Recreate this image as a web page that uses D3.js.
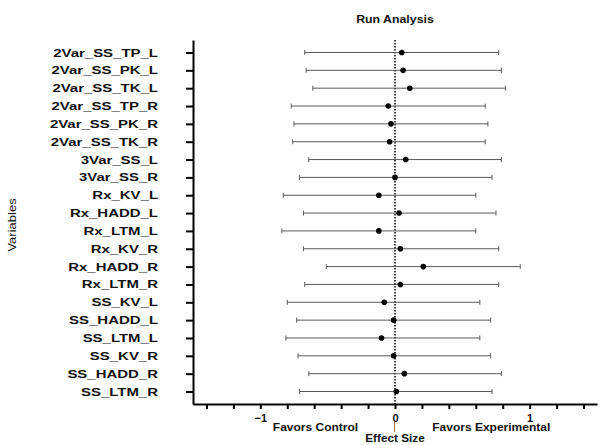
<!DOCTYPE html>
<html>
<head>
<meta charset="utf-8">
<script src="https://cdn.jsdelivr.net/npm/d3@7"></script>
<style>
  body { margin: 0; background: #fff; }
  text { font-family: "Liberation Sans", Arial, sans-serif; fill: #111; }
</style>
</head>
<body>
<script>
// variables, top to bottom
let variables = ['2Var_SS_TP_L', '2Var_SS_PK_L', '2Var_SS_TK_L', '2Var_SS_TP_R', '2Var_SS_PK_R',
  '2Var_SS_TK_R', '3Var_SS_L', '3Var_SS_R', 'Rx_KV_L', 'Rx_HADD_L', 'Rx_LTM_L', 'Rx_KV_R',
  'Rx_HADD_R', 'Rx_LTM_R', 'SS_KV_L', 'SS_HADD_L', 'SS_LTM_L', 'SS_KV_R', 'SS_HADD_R', 'SS_LTM_R'];
let effect = [0.05, 0.06, 0.11, -0.05, -0.03, -0.04, 0.08, 0.00, -0.12, 0.03, -0.12, 0.04,
  0.21, 0.04, -0.08, -0.01, -0.10, -0.01, 0.07, 0.01];
let lower = [-0.67, -0.66, -0.61, -0.77, -0.75, -0.76, -0.64, -0.71, -0.83, -0.68, -0.84, -0.68,
  -0.51, -0.67, -0.80, -0.73, -0.81, -0.72, -0.64, -0.71];
let upper = [0.77, 0.79, 0.82, 0.67, 0.69, 0.67, 0.79, 0.72, 0.60, 0.75, 0.60, 0.77,
  0.93, 0.77, 0.63, 0.71, 0.63, 0.71, 0.79, 0.72];
let xTicks = [-1.4, -1.2, -1, -0.8, -0.6, -0.4, -0.2, 0, 0.2, 0.4, 0.6, 0.8, 1, 1.2, 1.4];
let xLabels = [-1, 0, 1];

let data = variables.map(function(v, i) {
  return { name: v, es: effect[i], lo: lower[i], hi: upper[i] };
});

let width = 600, height = 445;
let plot = { left: 193, right: 597, top: 40, bottom: 404 };

let svg = d3.select('body').append('svg')
    .attr('width', width)
    .attr('height', height);

let x = d3.scaleLinear().domain([-1.5, 1.5]).range([plot.left, plot.right]);
let y = d3.scalePoint().domain(variables).range([plot.top, plot.bottom]).padding(0.7);

// stretch text horizontally a bit, the source font is wider than Arial
function stretch(sel, k) {
  sel.each(function() {
    let w = this.getComputedTextLength();
    d3.select(this).attr('textLength', w * k).attr('lengthAdjust', 'spacingAndGlyphs');
  });
}

// title
svg.append('text')
    .attr('x', (plot.left + plot.right) / 2)
    .attr('y', 23)
    .attr('text-anchor', 'middle')
    .style('font-size', '11px')
    .style('font-weight', 'bold')
    .text('Run Analysis')
    .call(stretch, 1.12);

// zero line
svg.append('line')
    .attr('x1', x(0)).attr('x2', x(0))
    .attr('y1', plot.top).attr('y2', plot.bottom)
    .attr('stroke', '#000')
    .attr('stroke-width', 1.5)
    .attr('stroke-dasharray', '1.5,1.5');

// error bars
let bars = svg.append('g').selectAll('g')
    .data(data)
  .enter().append('g')
    .attr('transform', function(d) { return 'translate(0,' + y(d.name) + ')'; });

bars.append('line')
    .attr('x1', function(d) { return x(d.lo); })
    .attr('x2', function(d) { return x(d.hi); })
    .attr('stroke', '#5a5a5a').attr('stroke-width', 1);
bars.append('line')
    .attr('x1', function(d) { return x(d.lo); })
    .attr('x2', function(d) { return x(d.lo); })
    .attr('y1', -2.5).attr('y2', 2.5)
    .attr('stroke', '#5a5a5a').attr('stroke-width', 1);
bars.append('line')
    .attr('x1', function(d) { return x(d.hi); })
    .attr('x2', function(d) { return x(d.hi); })
    .attr('y1', -2.5).attr('y2', 2.5)
    .attr('stroke', '#5a5a5a').attr('stroke-width', 1);
bars.append('circle')
    .attr('cx', function(d) { return x(d.es); })
    .attr('r', 2.8)
    .attr('fill', '#000');

// y axis
let yAxis = svg.append('g')
    .attr('transform', 'translate(' + plot.left + ',0)')
    .call(d3.axisLeft(y).tickSize(7).tickSizeOuter(0).tickPadding(28));
yAxis.select('.domain').attr('stroke-width', 2);
yAxis.selectAll('.tick line').attr('stroke-width', 2);
yAxis.selectAll('.tick text')
    .style('font-size', '11px')
    .style('font-weight', 'bold')
    .style('font-family', '"Liberation Sans", Arial, sans-serif')
    .attr('fill', '#111')
    .call(stretch, 1.36);

// x axis
let xAxis = svg.append('g')
    .attr('transform', 'translate(0,' + plot.bottom + ')')
    .call(d3.axisBottom(x).tickValues(xTicks).tickSize(5).tickSizeOuter(0).tickPadding(5)
      .tickFormat(function(d) { return xLabels.indexOf(Math.round(d * 10) / 10) >= 0 ? d3.format('d')(d) : ''; }));
xAxis.select('.domain').attr('stroke-width', 2);
xAxis.selectAll('.tick line').attr('stroke-width', 2);
xAxis.selectAll('.tick text')
    .style('font-size', '11px')
    .style('font-weight', 'bold')
    .style('font-family', '"Liberation Sans", Arial, sans-serif')
    .attr('fill', '#111');

// small mark under zero label
svg.append('line')
    .attr('x1', x(0) - 0.5).attr('x2', x(0) - 0.5)
    .attr('y1', 422).attr('y2', 432)
    .attr('stroke', '#b06a3a').attr('stroke-width', 1);

// annotations
svg.append('text')
    .attr('x', x(-0.59)).attr('y', 431)
    .attr('text-anchor', 'middle')
    .style('font-size', '10px').style('font-weight', 'bold')
    .text('Favors Control')
    .call(stretch, 1.2);
svg.append('text')
    .attr('x', x(0.715)).attr('y', 431)
    .attr('text-anchor', 'middle')
    .style('font-size', '10px').style('font-weight', 'bold')
    .text('Favors Experimental')
    .call(stretch, 1.2);
svg.append('text')
    .attr('x', x(0)).attr('y', 442)
    .attr('text-anchor', 'middle')
    .style('font-size', '10px').style('font-weight', 'bold')
    .text('Effect Size')
    .call(stretch, 1.18);

// y title
svg.append('text')
    .attr('transform', 'translate(16,225) rotate(-90)')
    .attr('text-anchor', 'middle')
    .style('font-size', '10px')
    .text('Variables')
    .call(stretch, 1.3);
</script>
</body>
</html>
